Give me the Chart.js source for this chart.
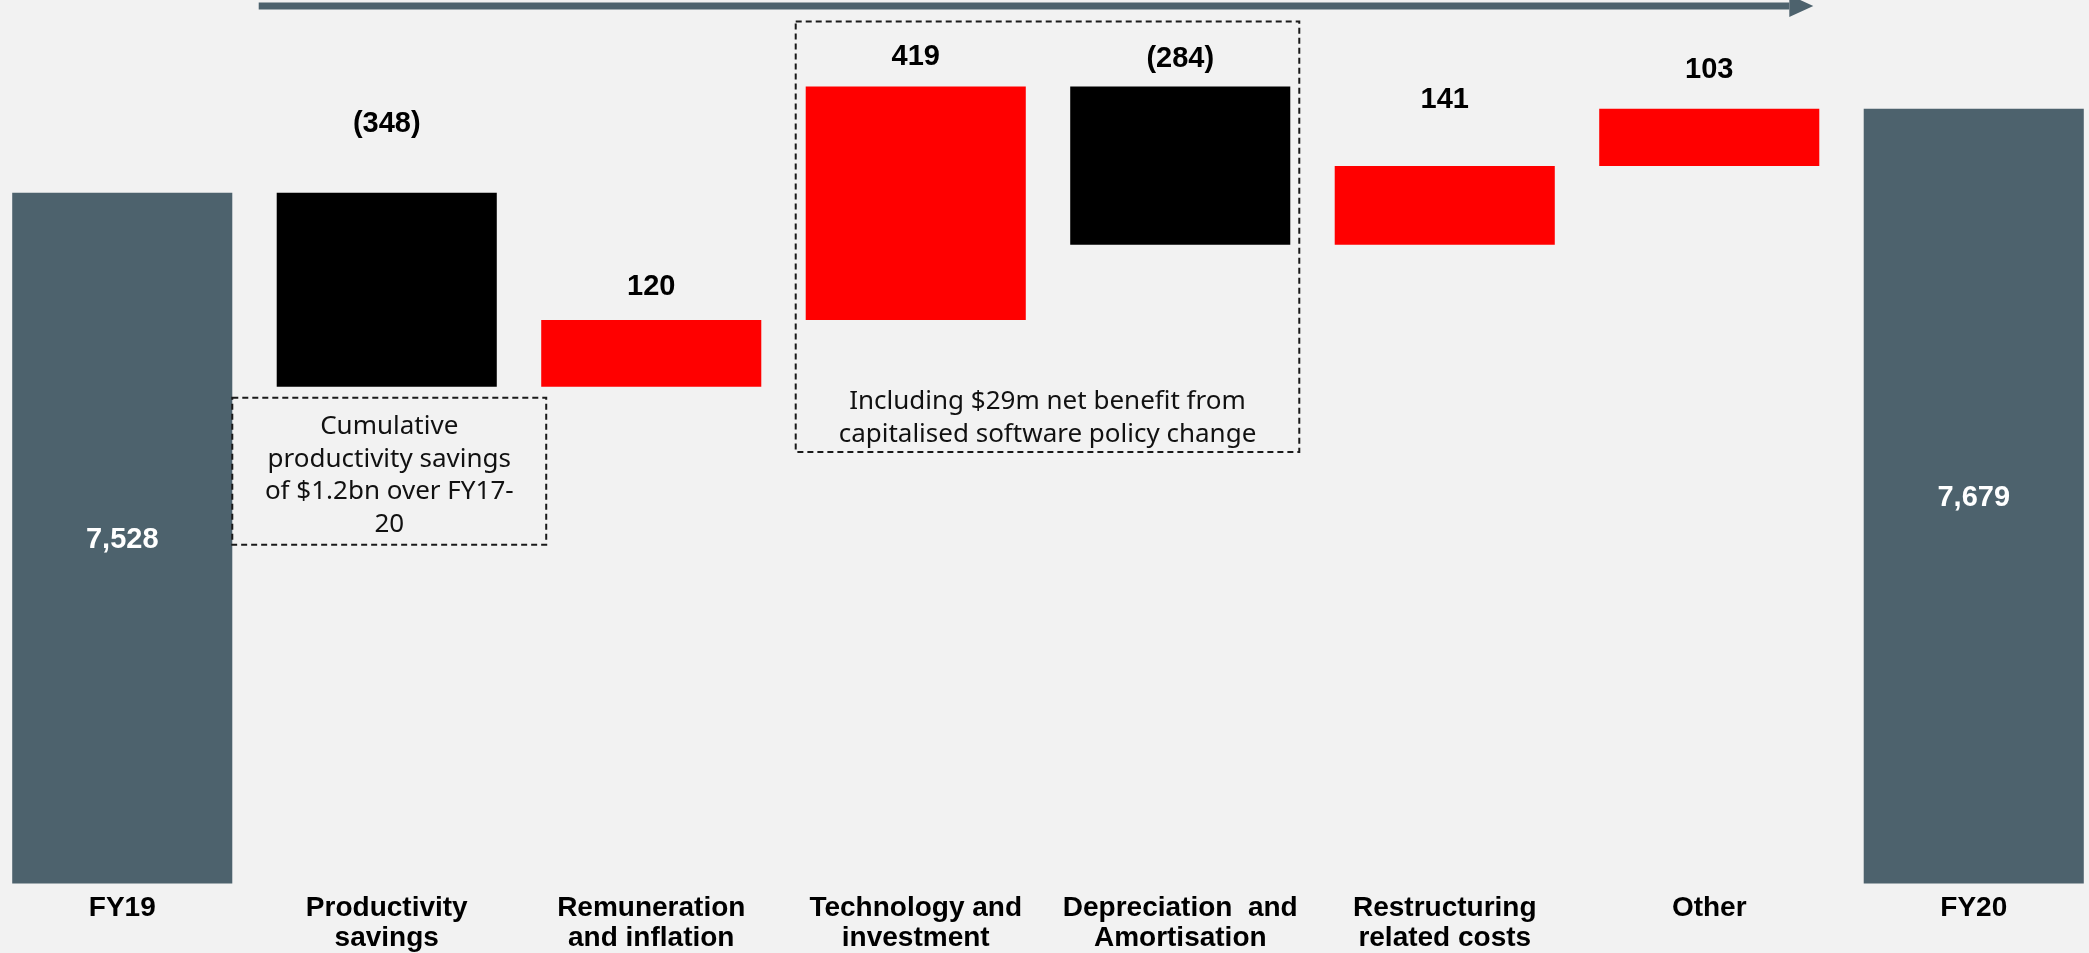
<!DOCTYPE html>
<html>
<head>
<meta charset="utf-8">
<script src="https://cdn.jsdelivr.net/npm/chart.js@4.4.1/dist/chart.umd.min.js"></script>
<style>
  html, body { margin: 0; padding: 0; background: #f2f2f2; overflow: hidden; width: 2089px; height: 953px; }
  #wrap { position: absolute; left: -10px; top: 0; width: 2116px; height: 953px; }
</style>
</head>
<body>
<div id="wrap"><canvas id="c"></canvas></div>
<script>
// ---- data ----
const categories = [
  ['FY19'],
  ['Productivity', 'savings'],
  ['Remuneration', 'and inflation'],
  ['Technology and', 'investment'],
  ['Depreciation  and', 'Amortisation'],
  ['Restructuring', 'related costs'],
  ['Other'],
  ['FY20']
];
const startTotal = 7528;
const endTotal = 7679;
const steps = [-348, 120, 419, -284, 141, 103];
const stepLabels = ['(348)', '120', '419', '(284)', '141', '103'];
const totalLabels = ['7,528', '7,679'];
const noteLeft = ['Cumulative', 'productivity savings', 'of $1.2bn over FY17-', '20'];
const noteMid = ['Including $29m net benefit from', 'capitalised software policy change'];

// ---- build floating bars ----
const floating = [[0, startTotal]];
let run = startTotal;
steps.forEach(s => { floating.push([run, run + s]); run += s; });
floating.push([0, endTotal]);

const SLATE = '#4d626d';
const barColors = [SLATE, '#000000', '#ff0000', '#ff0000', '#000000', '#ff0000', '#ff0000', SLATE];
const labelLift = [71, 35, 31, 29, 68, 41]; // px above bar top for step labels (visual centre)
const glyphShift = 2; // em-box middle vs digit visual centre

const overlay = {
  id: 'overlay',
  afterDatasetsDraw(chart) {
    const ctx = chart.ctx;
    const meta = chart.getDatasetMeta(0);
    const area = chart.chartArea;
    const bars = meta.data;
    ctx.save();
    ctx.textAlign = 'center';
    ctx.textBaseline = 'middle';
    ctx.font = "bold 29px 'Liberation Sans', Arial, sans-serif";
    [[0, totalLabels[0]], [bars.length - 1, totalLabels[1]]].forEach(([i, t]) => {
      const b = bars[i];
      const top = Math.min(b.y, b.base);
      const mid = (top + area.bottom) / 2;
      ctx.fillStyle = '#ffffff';
      ctx.fillText(t, b.x, mid + glyphShift);
    });
    steps.forEach((s, k) => {
      const b = bars[k + 1];
      const top = Math.min(b.y, b.base);
      ctx.fillStyle = '#000000';
      ctx.fillText(stepLabels[k], b.x, top - labelLift[k] + glyphShift);
    });

    const edge = (i, side) => bars[i].x + side * bars[i].width / 2;
    const bottomOf = i => Math.max(bars[i].y, bars[i].base);
    const topOf = i => Math.min(bars[i].y, bars[i].base);
    ctx.setLineDash([6, 4]);
    ctx.lineWidth = 2;
    ctx.strokeStyle = '#1a1a1a';
    ctx.font = "26px 'Noto Sans', 'Open Sans', sans-serif";
    ctx.fillStyle = '#111111';

    const b1l = edge(0, 1), b1r = edge(2, -1) + 5;
    const b1t = bottomOf(1) + 11, b1b = b1t + 147;
    ctx.strokeRect(b1l, b1t, b1r - b1l, b1b - b1t);
    noteLeft.forEach((t, k) => ctx.fillText(t, (b1l + b1r) / 2, b1t + 29 + k * 32.5));

    const b2l = edge(3, -1) - 10, b2r = edge(4, 1) + 9;
    const b2t = topOf(3) - 65, b2b = bottomOf(3) + 132;
    ctx.strokeRect(b2l, b2t, b2r - b2l, b2b - b2t);
    noteMid.forEach((t, k) => ctx.fillText(t, (b2l + b2r) / 2, b2b - 50 + k * 33));
    ctx.setLineDash([]);

    const ax0 = edge(1, -1) - 18, ax1 = edge(6, 1) - 6, ay = 6;
    ctx.fillStyle = SLATE;
    ctx.fillRect(ax0, ay - 3.5, ax1 - 24 - ax0, 7);
    ctx.beginPath();
    ctx.moveTo(ax1 - 24, ay - 11);
    ctx.lineTo(ax1, ay);
    ctx.lineTo(ax1 - 24, ay + 11);
    ctx.closePath();
    ctx.fill();
    ctx.restore();
  }
};

new Chart(document.getElementById('c'), {
  type: 'bar',
  data: {
    labels: categories,
    datasets: [{
      data: floating,
      backgroundColor: barColors,
      borderWidth: 0,
      barPercentage: 0.832,
      categoryPercentage: 1
    }]
  },
  options: {
    responsive: true,
    maintainAspectRatio: false,
    animation: false,
    layout: { padding: { top: 0, left: 0, right: 0, bottom: -10 } },
    plugins: { legend: { display: false }, tooltip: { enabled: false } },
    scales: {
      x: {
        grid: { display: false, drawTicks: false },
        border: { display: false },
        ticks: {
          color: '#000000',
          padding: 9,
          maxRotation: 0,
          autoSkip: false,
          font: { family: "'Liberation Sans', Arial, sans-serif", size: 28, weight: 'bold', lineHeight: 1.1 }
        }
      },
      y: {
        display: false,
        min: 6289,
        max: 7874
      }
    }
  },
  plugins: [overlay]
});
</script>
</body>
</html>
